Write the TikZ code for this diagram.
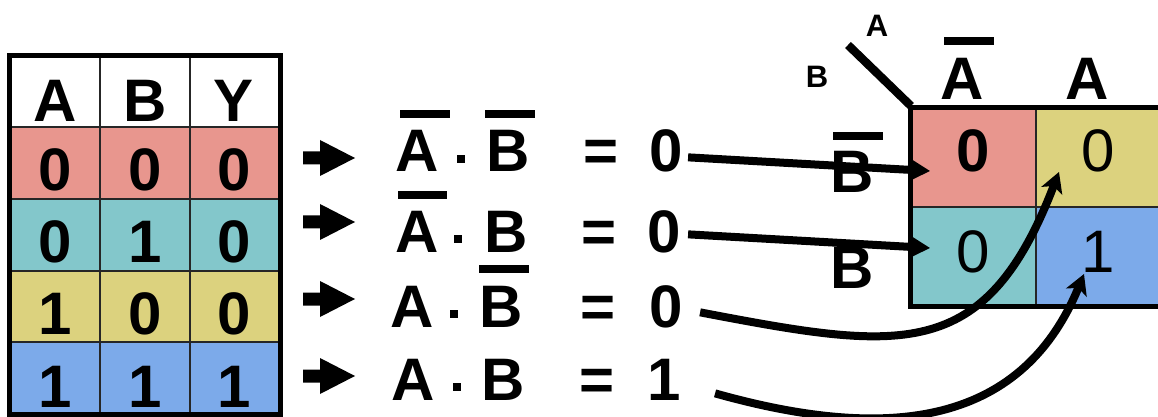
\documentclass[tikz,border=0pt]{standalone}
\usepackage{fontspec}
\setmainfont{Liberation Sans}
\usetikzlibrary{arrows.meta,calc}
\definecolor{cred}{RGB}{232,150,142}
\definecolor{cteal}{RGB}{131,199,203}
\definecolor{cyel}{RGB}{220,210,126}
\definecolor{cblue}{RGB}{124,170,234}
\begin{document}
\begin{tikzpicture}[x=0.5pt,y=-0.5pt,
  big/.style={font=\fontsize{30}{30}\selectfont\bfseries, inner sep=0pt, anchor=base},
  reg/.style={font=\fontsize{30}{30}\selectfont, inner sep=0pt, anchor=base},
  small/.style={font=\fontsize{15.5}{15.5}\selectfont\bfseries, inner sep=0pt, anchor=base},
  bar/.style={line width=4pt},
  gridline/.style={line width=1pt, draw=black!85},
  frame/.style={line width=2.5pt},
  conn/.style={line width=4pt, -{Stealth[length=10pt,width=11pt,inset=2.5pt]}}]
\useasboundingbox (0,0) rectangle (1158,417);

% ---- truth table ----
\fill[white] (11,58) rectangle (279,127);
\fill[cred]  (11,127) rectangle (279,199);
\fill[cteal] (11,199) rectangle (279,271);
\fill[cyel]  (11,271) rectangle (279,342);
\fill[cblue] (11,342) rectangle (279,413);
\draw[gridline] (100,58)--(100,413) (190,58)--(190,413)
  (11,127)--(279,127) (11,199)--(279,199) (11,271)--(279,271) (11,342)--(279,342);
\draw[frame] (9.5,56) rectangle (280.5,414);

\node[big] (hA) at (55,122) {A};
\node[big] (hB) at (145,122) {B};
\node[big] (hY) at (234,122) {Y};
\node[big] (t1a) at (55,191) {0};
\node[big] (t1b) at (145,191) {0};
\node[big] (t1y) at (234,191) {0};
\node[big] (t2a) at (55,263) {0};
\node[big] (t2b) at (145,263) {1};
\node[big] (t2y) at (234,263) {0};
\node[big] (t3a) at (55,335) {1};
\node[big] (t3b) at (145,335) {0};
\node[big] (t3y) at (234,335) {0};
\node[big] (t4a) at (55,407) {1};
\node[big] (t4b) at (145,407) {1};
\node[big] (t4y) at (234,407) {1};

% ---- block arrows ----
\foreach \y in {158,222,299,376}
  \fill (303,{\y-6.5}) -- (320,{\y-6.5}) -- (320,{\y-18}) -- (355,\y)
        -- (320,{\y+18}) -- (320,{\y+6.5}) -- (303,{\y+6.5}) -- cycle;

% ---- equations ----
\node[big] (a1) at (417,172) {A};
\node[big] (b1) at (508,172) {B};
\node[big] (e1) at (601,172) {=};
\node[big] (r1) at (666,172) {0};
\draw[bar] (400,114)--(450,114);
\draw[bar] (485,114)--(535,114);
\fill (457,155) rectangle (465,163);

\node[big] (a2) at (417,253) {A};
\node[big] (b2) at (506,253) {B};
\node[big] (e2) at (599,253) {=};
\node[big] (r2) at (664,253) {0};
\draw[bar] (398,195)--(447,195);
\fill (454,235) rectangle (462,243);

\node[big] (a3) at (412,328) {A};
\node[big] (b3) at (501,328) {B};
\node[big] (e3) at (598,328) {=};
\node[big] (r3) at (666,328) {0};
\draw[bar] (479,269)--(529,269);
\fill (450,310) rectangle (458,318);

\node[big] (a4) at (413,400) {A};
\node[big] (b4) at (503,400) {B};
\node[big] (e4) at (597,400) {=};
\node[big] (r4) at (664,400) {1};
\fill (453,383) rectangle (461,391);

% ---- K-map ----
\fill[cred]  (910,108) rectangle (1036,207);
\fill[cyel]  (1036,108) rectangle (1160,207);
\fill[cteal] (910,207) rectangle (1036,306);
\fill[cblue] (1036,207) rectangle (1160,306);
\draw[gridline] (1036,108)--(1036,306) (910,207)--(1160,207);
\draw[frame] (1160,108)--(910,108)--(910,306)--(1160,306);
\draw[line width=4.2pt] (848,45)--(911,106);

\node[small] (lA) at (877,37) {A};
\node[small] (lB) at (817,88) {B};
\node[big] (ca0) at (962,100) {A};
\draw[bar] (944,41)--(994,41);
\node[big] (ca1) at (1087,100) {A};
\node[big] (rb0) at (852,193) {B};
\draw[bar] (833,136)--(883,136);
\node[big] (rb1) at (852,288) {B};

\node[big] (m00) at (973,172) {0};
\node[reg] (m01) at (1098,172) {0};
\node[reg] (m10) at (973,272) {0};
\node[reg] (m11) at (1098,272) {1};

% ---- connectors ----
\coordinate (k1) at (930,171);
\coordinate (k2) at (930,248);
\coordinate (k3) at (1059,172);
\coordinate (k4) at (1084,274);
\draw[conn] ($(r1.east)+(5,6)$) -- (k1);
\draw[conn] ($(r2.east)+(7,2)$) -- (k2);
\draw[conn] ($(r3.east)+(17,5)$) .. controls +(200,38) and +(-74,193) .. (k3);
\draw[conn] ($(r4.east)+(34,14)$) .. controls +(167,47) and +(-64,156) .. (k4);
\end{tikzpicture}
\end{document}
